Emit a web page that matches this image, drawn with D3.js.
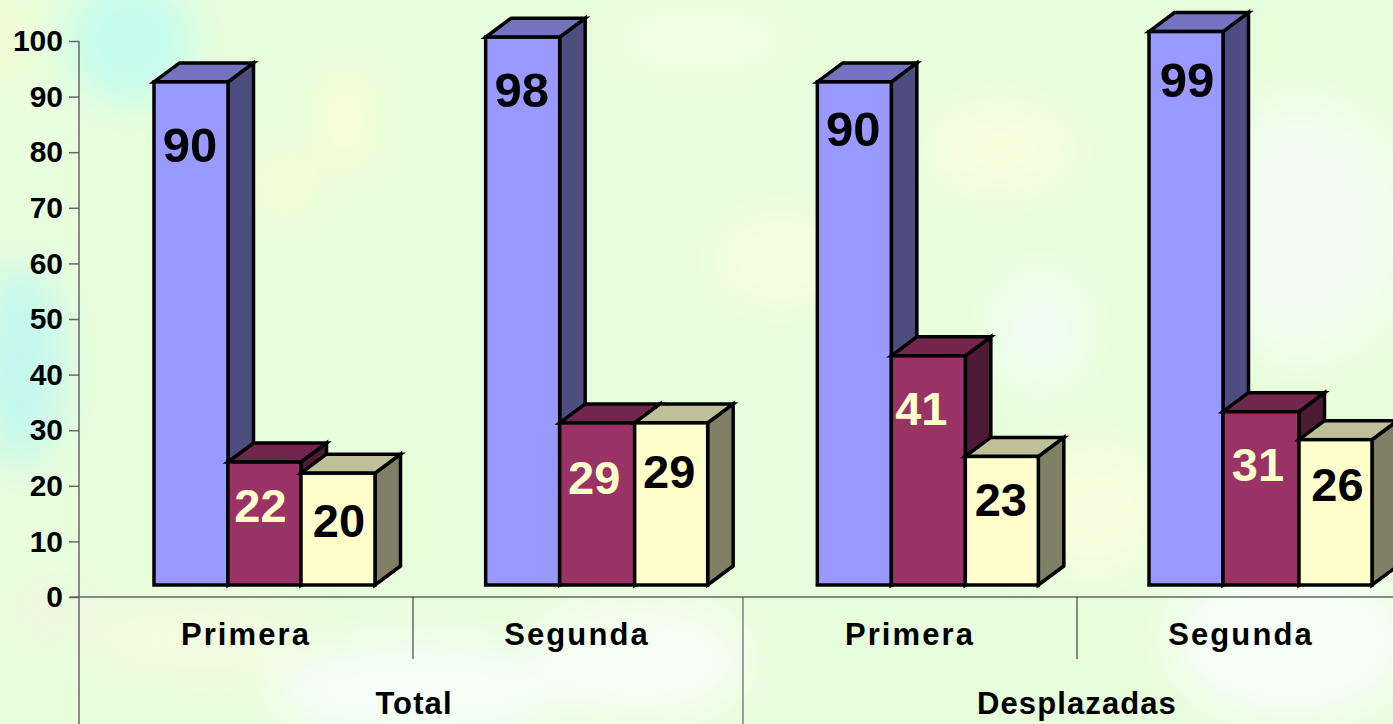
<!DOCTYPE html>
<html>
<head>
<meta charset="utf-8">
<script src="https://cdn.jsdelivr.net/npm/d3@7"></script>
<style>
  html, body { margin: 0; padding: 0; background: #e8fddc; overflow: hidden; }
  text { font-family: "Liberation Sans", Arial, sans-serif; font-weight: bold; }
</style>
</head>
<body>
<div id="plot"></div>
<script>
// values
const groups = ['Primera', 'Segunda', 'Primera', 'Segunda'];
const parents = ['Total', 'Desplazadas'];
const seriesA = [90, 98, 90, 99];
const seriesB = [22, 29, 41, 31];
const seriesC = [20, 29, 23, 26];
const yTicks = [0, 10, 20, 30, 40, 50, 60, 70, 80, 90, 100];

const W = 1393, H = 724;
const svg = d3.select('#plot').append('svg').attr('width', W).attr('height', H).style('display', 'block');

// mottled background, just soft blurred blobs
const defs = svg.append('defs');
defs.append('filter').attr('id', 'soft').attr('x', '-50%').attr('y', '-50%').attr('width', '200%').attr('height', '200%')
  .append('feGaussianBlur').attr('stdDeviation', 20);
svg.append('rect').attr('width', W).attr('height', H).attr('fill', '#e8fddc');
const blobs = [
  [130, 40, 62, 62, '#c4fcee'], [20, 365, 45, 100, '#c4f8ee'], [5, 40, 18, 30, '#fbfbd0'],
  [420, 690, 150, 50, '#f4fff8'], [640, 660, 110, 60, '#f6fff4'], [1290, 640, 120, 80, '#f6fff8'],
  [1300, 230, 110, 130, '#f2fff0'], [1040, 330, 50, 60, '#f0fef0'], [1000, 150, 70, 40, '#fafee0'],
  [345, 120, 28, 50, '#fafcd8'], [285, 185, 28, 30, '#f8fcd8'], [780, 260, 60, 40, '#f8fde0'],
  [1090, 510, 70, 60, '#fafee0'], [200, 640, 110, 30, '#f4fbe0'], [60, 610, 40, 30, '#eef8e0'],
  [700, 40, 90, 30, '#f0fee4']
];
svg.append('g').attr('filter', 'url(#soft)').selectAll('ellipse').data(blobs).join('ellipse')
  .attr('cx', d => d[0]).attr('cy', d => d[1]).attr('rx', d => d[2]).attr('ry', d => d[3]).attr('fill', d => d[4]);

// the axis sits on the back plane, the bar fronts are shifted forward of it
const yAxisScale = d3.scaleLinear().domain([0, 100]).range([597, 41]);
const yFront = d3.scaleLinear().domain([0, 100]).range([585, 26]);
const xGroup = d3.scalePoint().domain(d3.range(groups.length)).range([154, 1149]);
// bar widths are not quite even in the original
const barWidths = [[74, 73, 74], [74, 75, 73], [74, 74, 73], [74, 76, 73]];
const depthX = 25.5, depthY = 19;

const axisColor = '#666';
const yAxis = svg.append('g').attr('transform', 'translate(79,0)')
  .call(d3.axisLeft(yAxisScale).tickValues(yTicks).tickSize(10).tickPadding(6));
yAxis.select('.domain').remove();
yAxis.selectAll('line').attr('stroke', axisColor).attr('stroke-width', 1.5);
yAxis.selectAll('text').attr('fill', '#000').style('font-size', '30px').style('font-family', '"Liberation Sans", Arial, sans-serif').style('font-weight', 'bold');

svg.append('line').attr('x1', 79).attr('x2', 79).attr('y1', 41).attr('y2', H).attr('stroke', axisColor).attr('stroke-width', 1.5);
svg.append('line').attr('x1', 70).attr('x2', W).attr('y1', 597).attr('y2', 597).attr('stroke', axisColor).attr('stroke-width', 1.5);

// category separators
const seps = [[413, 659, '#222'], [743, H, '#444'], [1077, 659, '#222']];
seps.forEach(s => svg.append('line').attr('x1', s[0]).attr('x2', s[0]).attr('y1', 597).attr('y2', s[1]).attr('stroke', s[2]).attr('stroke-width', 1));

const series = [
  { values: seriesA, front: '#9999ff', top: '#7373bf', side: '#4d4d80', label: '#000', nudgeX: [-1, -1, -1, 1], nudgeY: [63, 53, 47, 48] },
  { values: seriesB, front: '#993366', top: '#73264d', side: '#4d1a33', label: '#ffffcc', nudgeX: [-4, -3, -7, -3], nudgeY: [44, 55, 53, 53] },
  { values: seriesC, front: '#ffffcc', top: '#bfbf99', side: '#808066', label: '#000', nudgeX: [1, -2, -1, 2], nudgeY: [47, 49, 43, 45] }
];

const barLeft = (i, k) => xGroup(i) + d3.sum(barWidths[i].slice(0, k));

const bars = svg.append('g').attr('stroke', '#000').attr('stroke-width', 3.5).attr('stroke-linejoin', 'miter');
groups.forEach((g, i) => {
  series.forEach((s, k) => {
    const x0 = barLeft(i, k), x1 = x0 + barWidths[i][k];
    const y0 = yFront(0), y1 = yFront(s.values[i]);
    bars.append('path').attr('fill', s.side)
      .attr('d', `M${x1},${y1}L${x1 + depthX},${y1 - depthY}L${x1 + depthX},${y0 - depthY}L${x1},${y0}Z`);
    bars.append('path').attr('fill', s.top)
      .attr('d', `M${x0},${y1}L${x0 + depthX},${y1 - depthY}L${x1 + depthX},${y1 - depthY}L${x1},${y1}Z`);
    bars.append('rect').attr('fill', s.front)
      .attr('x', x0).attr('y', y1).attr('width', barWidths[i][k]).attr('height', y0 - y1);
  });
});

// labels were hand placed in the original, so each has its own offset
series.forEach((s, k) => {
  groups.forEach((g, i) => {
    svg.append('text')
      .attr('x', barLeft(i, k) + barWidths[i][k] / 2 + s.nudgeX[i])
      .attr('y', yFront(s.values[i]) + s.nudgeY[i])
      .attr('dy', '0.35em')
      .attr('text-anchor', 'middle')
      .attr('fill', s.label)
      .style('font-size', k === 0 ? '49px' : '47px')
      .text(s.values[i]);
  });
});

const groupCenters = [246, 577, 910, 1241];
groups.forEach((g, i) => {
  svg.append('text').attr('x', groupCenters[i]).attr('y', 645).attr('text-anchor', 'middle')
    .attr('fill', '#000').style('font-size', '31px').style('letter-spacing', '2.1px').text(g);
});
const parentCenters = [414, 1077];
parents.forEach((p, i) => {
  svg.append('text').attr('x', parentCenters[i]).attr('y', 714).attr('text-anchor', 'middle')
    .attr('fill', '#000').style('font-size', '31px').style('letter-spacing', '1.1px').text(p);
});
</script>
</body>
</html>
